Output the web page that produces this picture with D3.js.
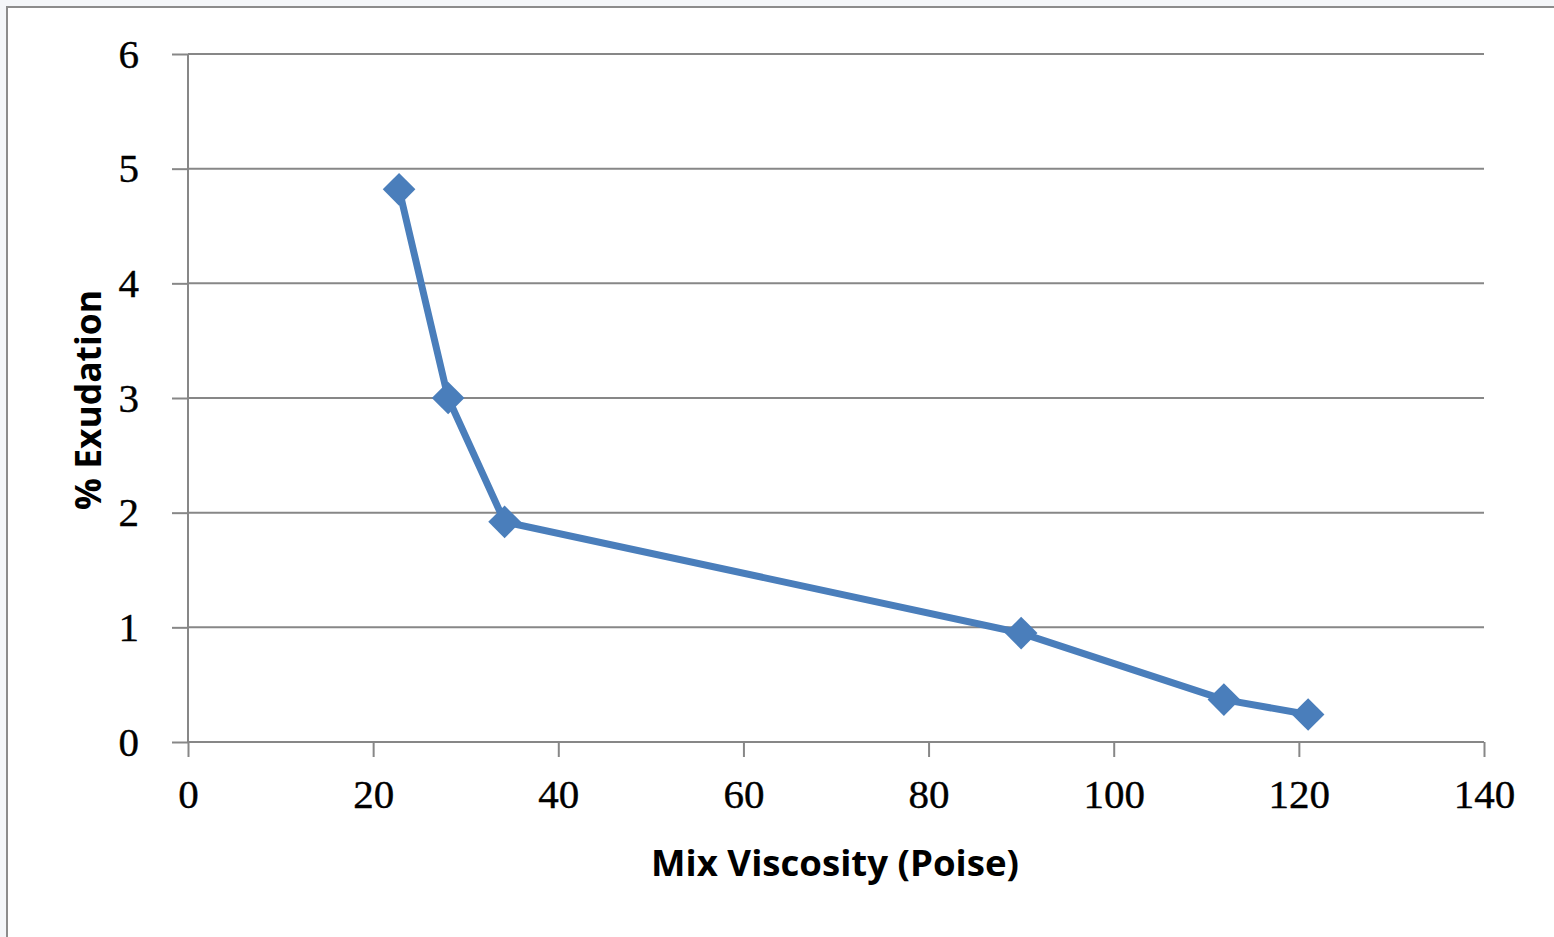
<!DOCTYPE html>
<html>
  <head>
    <meta charset="utf-8">
    <script src="https://cdn.jsdelivr.net/npm/d3@7/dist/d3.min.js"></script>
    <style>
      body { margin: 0; background: #f4f6f9; }
    </style>
  </head>
  <body>
    <script type="text/javascript">
      var w = 1554;
      var h = 937;

      // dados
      var viscosity = [22.8, 28.1, 34.2, 90.0, 111.9, 121.0];
      var exudation = [4.82, 3.0, 1.92, 0.95, 0.37, 0.24];
      var xTicks = [0, 20, 40, 60, 80, 100, 120, 140];
      var yTicks = [0, 1, 2, 3, 4, 5, 6];
      var xTitle = "Mix Viscosity (Poise)";
      var yTitle = "% Exudation";

      var plotLeft = 188, plotRight = 1484, plotTop = 54, plotBottom = 742;
      var blue = "#4a7ebb";
      var grey = "#878787";

      var svg = d3.select("body")
                  .append("svg")
                    .attr("width", w)
                    .attr("height", h)
                    .style("display", "block");

      // moldura do grafico
      svg.append("rect")
         .attr("x", 7).attr("y", 7)
         .attr("width", w + 20).attr("height", h + 20)
         .attr("fill", "white")
         .attr("stroke", "#8c8c8c")
         .attr("stroke-width", 2);

      var x = d3.scaleLinear().domain([0, 140]).range([plotLeft, plotRight]);
      var y = d3.scaleLinear().domain([0, 6]).range([plotBottom, plotTop]);

      // linhas de grade
      svg.selectAll("line.grid")
         .data(yTicks.filter(function(d){ return d > 0; }))
         .enter()
         .append("line")
            .attr("class", "grid")
            .attr("x1", plotLeft).attr("x2", plotRight)
            .attr("y1", function(d){ return y(d); })
            .attr("y2", function(d){ return y(d); })
            .attr("stroke", grey)
            .attr("stroke-width", 2);

      // eixo y
      var yAxis = svg.append("g")
         .attr("transform", "translate(" + plotLeft + ",0)")
         .call(d3.axisLeft(y).tickValues(yTicks).tickSize(16).tickPadding(33).tickFormat(d3.format("d")));

      // eixo x
      var xAxis = svg.append("g")
         .attr("transform", "translate(0," + plotBottom + ")")
         .call(d3.axisBottom(x).tickValues(xTicks).tickSize(15).tickPadding(22).tickFormat(d3.format("d")));

      [yAxis, xAxis].forEach(function(g){
        g.select(".domain").attr("stroke", grey).attr("stroke-width", 2);
        g.selectAll(".tick line").attr("stroke", grey).attr("stroke-width", 2);
        g.selectAll(".tick text")
         .attr("fill", "black")
         .attr("font-family", "'Liberation Serif', serif")
         .attr("font-size", 41)
         .attr("stroke", "black")
         .attr("stroke-width", 0.4);
      });
      yAxis.select(".domain").attr("d", "M0," + plotTop + "V" + plotBottom);
      xAxis.select(".domain").attr("d", "M" + plotLeft + ",0H" + plotRight);

      // linha da serie
      var line = d3.line()
         .x(function(d){ return x(d[0]); })
         .y(function(d){ return y(d[1]); });

      var pts = d3.zip(viscosity, exudation);

      svg.append("path")
         .datum(pts)
         .attr("d", line)
         .attr("fill", "none")
         .attr("stroke", blue)
         .attr("stroke-width", 7)
         .attr("stroke-linejoin", "round");

      // marcadores em losango
      svg.selectAll("path.marker")
         .data(pts)
         .enter()
         .append("path")
            .attr("class", "marker")
            .attr("d", d3.symbol().type(d3.symbolDiamond2).size(680))
            .attr("transform", function(d){
              return "translate(" + x(d[0]) + "," + y(d[1]) + ")";
            })
            .attr("fill", blue);

      // titulos dos eixos
      svg.append("text")
         .text(xTitle)
         .attr("x", 835)
         .attr("y", 876)
         .attr("text-anchor", "middle")
         .attr("font-family", "'Open Sans', sans-serif")
         .attr("font-weight", "bold")
         .attr("font-size", 36)
         .attr("textLength", 368)
         .attr("lengthAdjust", "spacingAndGlyphs");

      svg.append("text")
         .text(yTitle)
         .attr("transform", "translate(101,400) rotate(-90)")
         .attr("text-anchor", "middle")
         .attr("font-family", "'Open Sans', sans-serif")
         .attr("font-weight", "bold")
         .attr("font-size", 36)
         .attr("textLength", 220)
         .attr("lengthAdjust", "spacingAndGlyphs");
    </script>
  </body>
</html>
